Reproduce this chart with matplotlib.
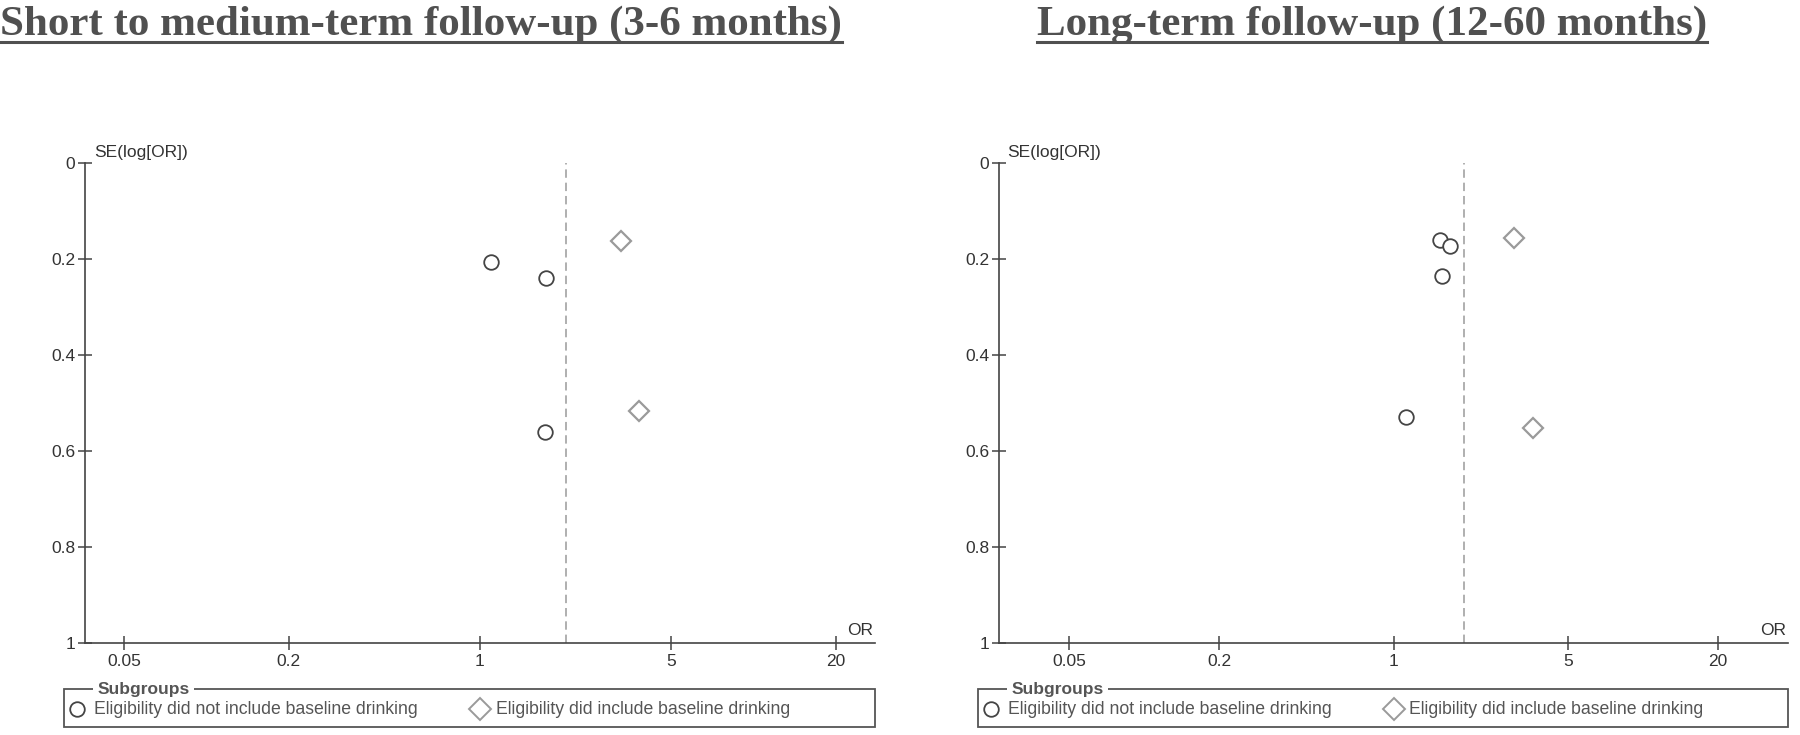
import numpy as np
import matplotlib.pyplot as plt
from matplotlib.lines import Line2D
from matplotlib.patches import Rectangle
from matplotlib.ticker import NullLocator

titles = ['Short to medium-term follow-up (3-6 months)', 'Long-term follow-up (12-60 months)']
group_names = ['Eligibility did not include baseline drinking', 'Eligibility did include baseline drinking']
tick_or = [0.05, 0.2, 1, 5, 20]
tick_or_labels = ['0.05', '0.2', '1', '5', '20']
tick_se = [0, 0.2, 0.4, 0.6, 0.8, 1]
tick_se_labels = ['0', '0.2', '0.4', '0.6', '0.8', '1']

# short to medium-term follow-up
short_not_or = [1.10, 1.75, 1.73]
short_not_se = [0.206, 0.239, 0.560]
short_did_or = [3.29, 3.80]
short_did_se = [0.162, 0.516]
short_pooled_or = 2.06

# long-term follow-up
long_not_or = [1.54, 1.69, 1.57, 1.12]
long_not_se = [0.160, 0.172, 0.235, 0.529]
long_did_or = [3.05, 3.62]
long_did_se = [0.156, 0.552]
long_pooled_or = 1.92

sans = ['Liberation Sans', 'DejaVu Sans']
plt.rcParams['font.family'] = sans

fig = plt.figure(figsize=(18, 7.35), dpi=100)

panels = [
    dict(rect=[85 / 1800, 1 - 643 / 735, 790 / 1800, 480 / 735], xlim=(0.036, 27.8),
         not_or=short_not_or, not_se=short_not_se, did_or=short_did_or, did_se=short_did_se,
         pooled=short_pooled_or, title=titles[0], title_x=0.0),
    dict(rect=[999 / 1800, 1 - 643 / 735, 789 / 1800, 480 / 735], xlim=(0.0261, 38.3),
         not_or=long_not_or, not_se=long_not_se, did_or=long_did_or, did_se=long_did_se,
         pooled=long_pooled_or, title=titles[1], title_x=1037 / 1800),
]

axis_col = '#444444'
text_col = '#505050'

for p in panels:
    ax = fig.add_axes(p['rect'])
    ax.set_xscale('log')
    ax.set_xlim(*p['xlim'])
    ax.set_ylim(1, 0)
    for s in ['top', 'right']:
        ax.spines[s].set_visible(False)
    for s in ['left', 'bottom']:
        ax.spines[s].set_color(axis_col)
        ax.spines[s].set_linewidth(1.2)
    ax.set_xticks(tick_or, tick_or_labels)
    ax.xaxis.set_minor_locator(NullLocator())
    ax.set_yticks(tick_se, tick_se_labels)
    ax.tick_params(direction='inout', length=10, width=1.1, colors=axis_col,
                   labelcolor='#333333', labelsize=12.5)
    ax.tick_params(axis='x', pad=3)
    ax.tick_params(axis='y', pad=2)

    ax.axvline(p['pooled'], color='#9a9a9a', lw=1.1, dashes=(5.5, 3.2))
    ax.plot(p['not_or'], p['not_se'], 'o', ms=10.5, mfc='white', mec='#444444', mew=1.3,
            ls='none', clip_on=False)
    ax.plot(p['did_or'], p['did_se'], 'D', ms=10, mfc='white', mec='#9a9a9a', mew=1.6,
            ls='none', clip_on=False)

    ax.text(0.011, 1.021, 'SE(log[OR])', transform=ax.transAxes, va='center', ha='left',
            fontsize=12.5, color='#333333')
    ax.text(0.998, 0.026, 'OR', transform=ax.transAxes, va='center', ha='right',
            fontsize=12.5, color='#333333')

    # legend box
    ax.add_patch(Rectangle((-0.027, -0.175), 1.027, 0.079, transform=ax.transAxes,
                           fill=False, ec='#555555', lw=1.3, clip_on=False))
    ax.text(0.016, -0.096, 'Subgroups', transform=ax.transAxes, va='center', ha='left',
            fontsize=12.5, fontweight='bold', color='#555555',
            bbox=dict(fc='white', ec='none', pad=3))
    ax.plot([-0.010], [-0.1375], 'o', ms=10.5, mfc='white', mec='#444444', mew=1.3,
            transform=ax.transAxes, clip_on=False)
    ax.text(0.012, -0.1375, group_names[0], transform=ax.transAxes, va='center',
            ha='left', fontsize=12.7, color='#555555')
    ax.plot([0.5], [-0.1375], 'D', ms=11, mfc='white', mec='#9a9a9a', mew=1.4,
            transform=ax.transAxes, clip_on=False)
    ax.text(0.52, -0.1375, group_names[1], transform=ax.transAxes, va='center',
            ha='left', fontsize=12.7, color='#555555')

    t = fig.text(p['title_x'], 1 - 35 / 735, p['title'], va='baseline', ha='left',
                 family='Liberation Serif', fontweight='bold', fontsize=31, color=text_col)
    p['title_artist'] = t

fig.canvas.draw()
r = fig.canvas.get_renderer()
for p in panels:
    bb = p['title_artist'].get_window_extent(renderer=r)
    x0, x1 = bb.x0 / 1800, bb.x1 / 1800
    fig.add_artist(Line2D([x0, x1], [1 - 42 / 735] * 2, transform=fig.transFigure,
                          color=text_col, lw=2.2))

fig.savefig('out.png', dpi=100, facecolor='white')
